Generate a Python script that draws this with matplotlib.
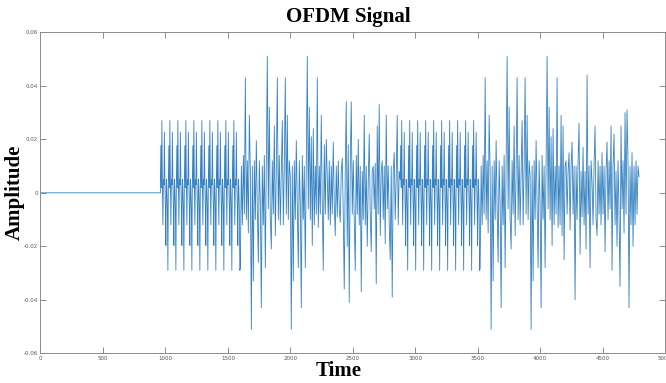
import numpy as np
import matplotlib
matplotlib.use("Agg")
import matplotlib.pyplot as plt

# ---- signal description -------------------------------------------------
# leading silence (samples)
silence_len = 960

# one 64-sample training symbol, sampled every 4 samples
preamble_symbol = [0.005, 0.0177, 0.002, 0.027, 0.004, -0.012, 0.005, 0.003,
                   0.0227, 0.004, -0.006, -0.0197, 0.005, 0.002, -0.006, -0.029]
preamble_repeats = 10
preamble_step = 4

# data symbols, sampled every 8 samples (1280 samples per block)
data_step = 8
data_block_1 = [
    -0.028, 0.010, -0.012, 0.014, -0.008, 0.043, -0.010, 0.012, -0.015, 0.029,
    0.008, -0.051, 0.010, -0.033, 0.012, -0.010, 0.0195, -0.006, -0.026, 0.012,
    -0.004, -0.043, 0.010, -0.012, 0.014, -0.028, 0.010, 0.051, -0.006, 0.032,
    -0.010, -0.021, 0.012, -0.008, 0.025, -0.016, 0.008, 0.043, -0.010, 0.014,
    -0.012, 0.008, 0.027, -0.012, 0.010, 0.043, -0.008, 0.029, -0.010, 0.012,
    0.006, -0.051, 0.010, -0.033, 0.012, -0.010, 0.0195, -0.004, -0.028, 0.012,
    -0.004, -0.043, 0.014, -0.010, 0.010, -0.028, 0.010, 0.051, -0.006, 0.032,
    -0.010, 0.021, -0.0197, 0.024, -0.012, 0.010,
    -0.008, 0.043, -0.013, 0.010, -0.008, 0.029, -0.004, -0.029, 0.018, -0.008,
    0.020, 0.006, -0.010, 0.012, -0.012, 0.010, -0.008, 0.019, -0.004, -0.016,
    0.010, -0.009, 0.012, -0.006, -0.011, 0.008, 0.013, -0.008, -0.036, 0.008,
    0.034, -0.020, 0.018, -0.041, 0.010, 0.034, -0.008, 0.012, -0.010, -0.029,
    0.014, -0.008, 0.020, -0.012, 0.010, -0.037, 0.008, -0.010, 0.029, -0.012,
    0.010, -0.020, 0.004, 0.022, -0.008, -0.022, 0.008, 0.010, -0.006, 0.011,
    -0.034, 0.025, -0.008, 0.033, -0.016, 0.008, 0.012, -0.010, 0.010, -0.019,
    0.029, -0.006, 0.010, -0.012, -0.025, 0.010, -0.039, 0.008, 0.015, -0.010,
    0.006, 0.029, -0.012, 0.008,
]
# second data block shares its first 76 points with the first block
data_block_2_tail = [
    -0.008, 0.043, -0.013, 0.010, -0.012, 0.029, -0.016, 0.025, -0.025, 0.010,
    0.012, -0.008, 0.008, 0.015, -0.014, 0.010, 0.019, -0.008, 0.010, -0.040,
    0.010, -0.010, 0.012, 0.026, -0.023, 0.008, -0.009, 0.017, -0.012, 0.008,
    -0.021, 0.044, -0.008, 0.010, -0.028, 0.012, 0.004, -0.012, 0.010, 0.025,
    -0.010, -0.016, 0.012, -0.008, 0.010, -0.012, 0.015, -0.008, 0.010, -0.022,
    0.008, 0.019, -0.010, 0.012, -0.006, 0.025, -0.029, 0.010, 0.022, -0.012,
    0.008, -0.020, 0.012, -0.008, -0.035, 0.025, -0.006, 0.012, -0.015, 0.030,
    -0.008, 0.031, 0.012, -0.043, 0.010, -0.012, 0.015, -0.020, 0.010, -0.012,
    0.012, -0.008, 0.010, 0.006,
]
data_block_2 = data_block_1[:76] + data_block_2_tail

x_ticks = [0, 500, 1000, 1500, 2000, 2500, 3000, 3500, 4000, 4500, 5000]
y_ticks = [-0.06, -0.04, -0.02, 0, 0.02, 0.04, 0.06]
y_tick_labels = ["-0.06", "-0.04", "-0.02", "0", "0.02", "0.04", "0.06"]

# ---- assemble the time axis ---------------------------------------------
segments_x, segments_y = [], []
segments_x.append(np.array([0, silence_len]))
segments_y.append(np.array([0.0, 0.0]))

start = silence_len
for block, step in [(preamble_symbol * preamble_repeats, preamble_step),
                    (data_block_1, data_step),
                    (preamble_symbol * preamble_repeats, preamble_step),
                    (data_block_2, data_step)]:
    n = len(block)
    segments_x.append(start + step * np.arange(n))
    segments_y.append(np.array(block))
    start += step * n

t = np.concatenate(segments_x)
s = np.concatenate(segments_y)

# ---- figure -------------------------------------------------------------
fig = plt.figure(figsize=(6.66, 3.83), dpi=100)
ax = fig.add_axes([0.0608, 0.0775, 0.9377, 0.8382])
ax.plot(t, s, color="#3582c2", linewidth=0.6)

ax.set_xlim(0, 5000)
ax.set_ylim(-0.06, 0.06)
ax.set_xticks(x_ticks)
ax.set_xticklabels([str(v) for v in x_ticks])
ax.set_yticks(y_ticks)
ax.set_yticklabels(y_tick_labels)

axis_grey = "#8c8c8c"
for sp in ax.spines.values():
    sp.set_color(axis_grey)
    sp.set_linewidth(0.7)
ax.tick_params(direction="in", length=4, width=0.7, color=axis_grey,
               labelsize=4, labelcolor="#555555", top=True, right=True,
               pad=2)

serif = ["Liberation Serif", "DejaVu Serif"]
fig.text(348 / 666, 1 - 17 / 383, "OFDM Signal", ha="center", va="center",
         fontsize=15, fontweight="bold", family=serif)
fig.text(339 / 666, 1 - 371 / 383, "Time", ha="center", va="center",
         fontsize=15, fontweight="bold", family=serif)
fig.text(15 / 666, 1 - 192 / 383, "Amplitude", ha="center", va="center",
         rotation=90, fontsize=15, fontweight="bold", family=serif)

fig.savefig("out.png", dpi=100)
